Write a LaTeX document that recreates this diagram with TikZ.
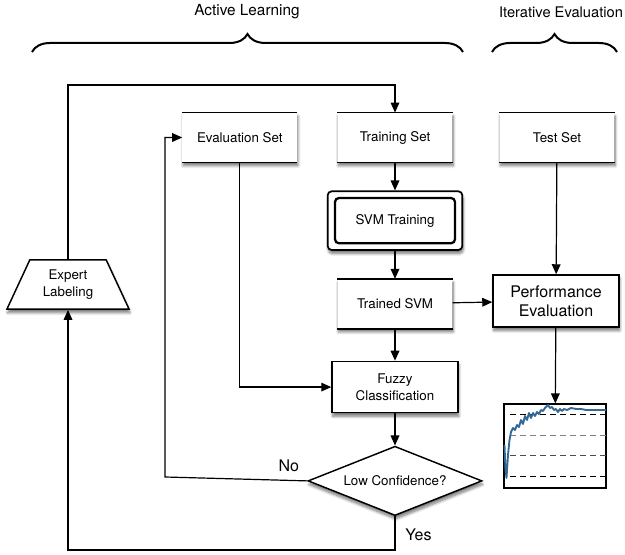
\documentclass[tikz,border=0pt]{standalone}
\usepackage{fontspec}
\setmainfont{TeX Gyre Heros}
\usetikzlibrary{positioning, arrows.meta, shapes.geometric, shadows.blur, decorations.pathreplacing}
\definecolor{curveblue}{RGB}{52,104,148}

\begin{document}
\begin{tikzpicture}[
    x=0.75pt, y=-0.75pt,
    softshadow/.style={blur shadow={shadow xshift=0.6pt, shadow yshift=-2.6pt,
    shadow blur steps=8, shadow opacity=55}},
    block/.style={rectangle, draw, line width=1.1pt, fill=white, softshadow,
    minimum width=94.5pt, minimum height=38.5pt, align=center,
    font=\fontsize{10}{12.5}\selectfont},
    dataset/.style={rectangle, fill=white, softshadow, minimum width=86pt,
    minimum height=37pt, font=\fontsize{10}{12.5}\selectfont,
    append after command={(\tikzlastnode.north west) edge[line width=1.3pt] (\tikzlastnode.north east)
    (\tikzlastnode.south west) edge[line width=1.3pt] (\tikzlastnode.south east)}},
    arrow/.style={-{Triangle[length=7.5pt, width=6.5pt]}, line width=0.9pt},
    brace/.style={decorate, decoration={brace, amplitude=13.5pt}, line width=1.5pt}
]
\useasboundingbox (0,0) rectangle (625,555);

% group labels
\node[font=\fontsize{11.5}{14}\selectfont] (activelbl) at (247,12) {Active Learning};
\node[font=\fontsize{11}{14}\selectfont] (iterlbl) at (561,12) {Iterative Evaluation};
\draw[brace] (32,52) -- (463,52);
\draw[brace] (492,52) -- (617,52);

% nodes
\node[dataset] (trainset) at (395,137.5) {Training Set};
\node[dataset, left=30pt of trainset] (evalset) {Evaluation Set};
\node[dataset] (testset) at (557,137.5) {Test Set};
\node[block, rounded corners=3pt, line width=1.3pt, minimum width=101pt, minimum height=44pt,
    below=21pt of trainset,
    path picture={\draw[line width=1.7pt]
    ([shift={(5.5pt,-5pt)}]path picture bounding box.north west) rectangle
    ([shift={(-5.5pt,5pt)}]path picture bounding box.south east);}] (svm) {SVM Training};
\node[dataset, below=21pt of svm] (trained) {Trained SVM};
\node[block, minimum height=39pt, font=\fontsize{12}{14.5}\selectfont] (perf) at (556,301)
    {Performance\\Evaluation};
\node[block, below=24pt of trained] (fuzzy) {Fuzzy\\Classification};
\node[diamond, draw, line width=1.1pt, fill=white, softshadow, aspect=2.5, inner sep=0pt,
    minimum width=130.5pt, minimum height=52pt, font=\fontsize{10}{12.5}\selectfont,
    below=24pt of fuzzy] (lowconf) {Low Confidence?};
\node[trapezium, trapezium angle=65, trapezium stretches=true, draw, line width=1.1pt,
    fill=white, softshadow, minimum width=92pt, minimum height=37pt, align=center,
    font=\fontsize{10}{12.5}\selectfont] (expert) at (68,284.5) {Expert\\Labeling};
\node[draw, line width=0.8pt, minimum width=76.5pt, minimum height=63pt, inner sep=0pt]
    (chart) at (555,446) {};

% chart contents
\foreach \yy/\cc in {414/black, 435/gray, 455/black!70, 476/black}
    \draw[\cc, dash pattern=on 4.5pt off 3pt, line width=0.7pt] (510,\yy) -- (606,\yy);
\draw[curveblue, line width=1.4pt, line join=round] (504.5,445) -- (505.5,470) -- (506.5,478)
    -- (508,455) -- (509.5,440) -- (511,432) -- (513,428) -- (515,430) -- (517,425)
    -- (519,427) -- (521,420) -- (523,424) -- (525,416) -- (527,420) -- (529,413)
    -- (531,418) -- (533,413) -- (535,416) -- (537,412) -- (539,414) -- (541,410)
    -- (543,411) -- (545,408) -- (548,405) -- (550,408) -- (552,407) -- (554,410)
    -- (556,409) -- (558,412) -- (560,409) -- (562,411) -- (564,409) -- (567,410)
    -- (571,408) -- (576,409) -- (581,409) -- (586,410) -- (606,410);

% turning points
\coordinate (topturn) at (395,85);
\coordinate (noturn) at (165,477);
\coordinate (yesturn) at (395,550);

% connectors
\draw[arrow] (expert.north) |- (topturn) -- (trainset.north);
\draw[arrow] (trainset) -- (svm);
\draw[arrow] (svm) -- (trained);
\draw[arrow] (trained) -- (fuzzy);
\draw[arrow] (fuzzy) -- (lowconf);
\draw[arrow] (trained) -- (perf);
\draw[arrow] (testset) -- (perf);
\draw[arrow] (perf) -- (chart);
\draw[arrow] (evalset.south) |- (fuzzy.west);
\draw[arrow] (lowconf.west) -- node[above, pos=0.13, yshift=3pt, font=\fontsize{12}{14}\selectfont] {No}
    (noturn) |- (evalset.west);
\draw[arrow] (lowconf.south) -- node[right, pos=0.55, xshift=4pt, font=\fontsize{12}{14}\selectfont] {Yes}
    (yesturn) -| (expert.south);

\end{tikzpicture}
\end{document}
